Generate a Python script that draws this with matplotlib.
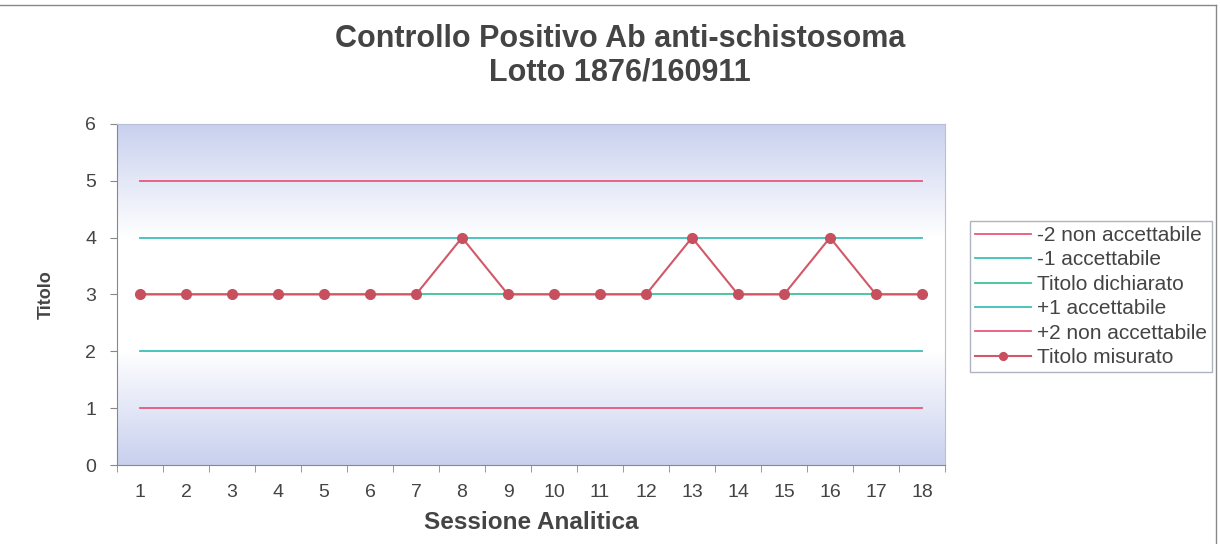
import numpy as np
import matplotlib
matplotlib.use("Agg")
import matplotlib.pyplot as plt
from matplotlib.colors import LinearSegmentedColormap

plt.rcParams['font.family'] = ['Liberation Sans', 'DejaVu Sans']

sessions = list(range(1, 19))
measured = [3, 3, 3, 3, 3, 3, 3, 4, 3, 3, 3, 3, 4, 3, 3, 4, 3, 3]
limit_minus2 = 5
limit_minus1 = 4
declared = 3
limit_plus1 = 2
limit_plus2 = 1
labels = ["-2 non accettabile", "-1 accettabile", "Titolo dichiarato",
          "+1 accettabile", "+2 non accettabile", "Titolo misurato"]
title = "Controllo Positivo Ab anti-schistosoma\nLotto 1876/160911"

red = '#E8587A'
teal = '#3BBFB8'
green = '#3DC39A'
meas = '#D25868'
txt = '#444444'

fig = plt.figure(figsize=(12.2, 5.44), dpi=100)
ax = fig.add_axes([0.0959, 0.1452, 0.6787, 0.627])

# gradient background
cmap = LinearSegmentedColormap.from_list('bg', ['#C8D0EE', '#FFFFFF', '#FFFFFF', '#C8D0EE'])
grad = np.linspace(0, 1, 256).reshape(-1, 1)
ax.imshow(grad, aspect='auto', cmap=cmap, extent=[0.5, 18.5, 0, 6], zorder=0)

ax.plot(sessions, [limit_minus2] * 18, color=red, lw=1.3, label=labels[0], zorder=2)
ax.plot(sessions, [limit_minus1] * 18, color=teal, lw=1.3, label=labels[1], zorder=2)
ax.plot(sessions, [declared] * 18, color=green, lw=1.3, label=labels[2], zorder=2)
ax.plot(sessions, [limit_plus1] * 18, color=teal, lw=1.3, label=labels[3], zorder=2)
ax.plot(sessions, [limit_plus2] * 18, color=red, lw=1.3, label=labels[4], zorder=2)
ax.plot(sessions, measured, color=meas, lw=1.5, marker='o', ms=7,
        markerfacecolor='#C8505E', markeredgecolor='#C8505E', label=labels[5], zorder=3)

ax.set_xlim(0.5, 18.5)
ax.set_ylim(0, 6)
ax.set_xticks(sessions)
ax.set_xticks(np.arange(0.5, 19, 1), minor=True)
ax.set_xticklabels([str(s) for s in sessions])
ax.set_yticks(range(0, 7))
ax.tick_params(axis='x', which='major', length=0, pad=14, labelsize=14, colors=txt)
ax.tick_params(axis='x', which='minor', length=5, color='#888888', direction='out')
ax.tick_params(axis='y', length=5, color='#888888', labelsize=14, colors=txt, pad=10)
for s in ['top', 'right']:
    ax.spines[s].set_color('#B8C0D8')
for s in ['left', 'bottom']:
    ax.spines[s].set_color('#888888')

ax.set_xlabel("Sessione Analitica", fontsize=17.5, fontweight='bold', color=txt, labelpad=7)
ax.set_ylabel("Titolo", fontsize=13, fontweight='bold', color=txt, labelpad=22)
fig.text(0.508, 0.897, title, ha='center', va='center', fontsize=22,
         fontweight='bold', color=txt, linespacing=1.15)

leg = fig.legend(loc='upper left', bbox_to_anchor=(0.795, 0.594), frameon=True,
                 fancybox=False, edgecolor='#9AA0B0', fontsize=15,
                 handlelength=2.7, labelspacing=0.26, borderpad=0.25,
                 handletextpad=0.25, markerscale=0.8, borderaxespad=0)
for t in leg.get_texts():
    t.set_color(txt)

# figure frame lines
fig.add_artist(plt.Line2D([0, 0.997], [0.99, 0.99], color='#888888', lw=1, transform=fig.transFigure))
fig.add_artist(plt.Line2D([0.997, 0.997], [0, 0.99], color='#888888', lw=1, transform=fig.transFigure))

fig.savefig('out.png', dpi=100)
